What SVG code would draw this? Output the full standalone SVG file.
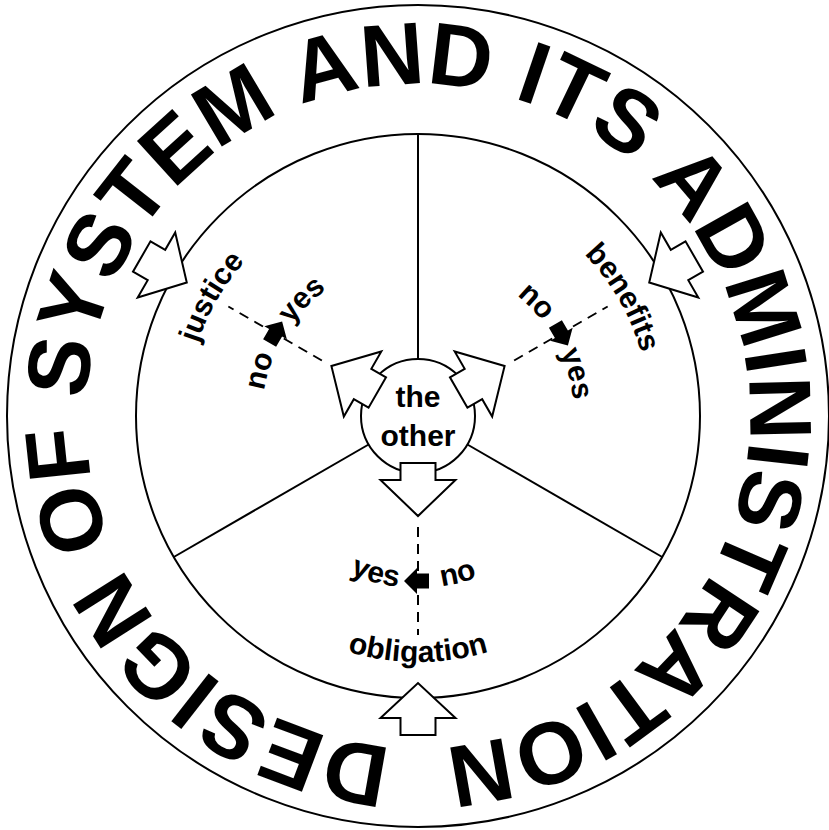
<svg xmlns="http://www.w3.org/2000/svg" width="829" height="830" viewBox="0 0 829 830">
<style>
.ln{fill:none;stroke:#000;stroke-width:2}
.blk{fill:#fff;stroke:#000;stroke-width:2;stroke-linejoin:miter}
.dash{fill:none;stroke:#000;stroke-width:2;stroke-dasharray:10 7}
.mini{fill:#000;stroke:none}
.lbl{font-family:"Liberation Sans",Arial,Helvetica,sans-serif;font-weight:bold;font-size:30px;fill:#000}
.ctr{font-family:"Liberation Sans",Arial,Helvetica,sans-serif;font-weight:bold;font-size:30px;fill:#000}
.ring{font-family:"Liberation Sans",Arial,Helvetica,sans-serif;font-weight:bold;font-size:88px;letter-spacing:0.3px;fill:#000}
</style>
<defs>
<polygon id="arrOut" class="blk" points="-17.5,47 17.5,47 17.5,64 37.5,64 0,100 -37.5,64 -17.5,64"/>
<polygon id="arrIn" class="blk" points="-17.5,319 -17.5,302 -37.5,302 0,267 37.5,302 17.5,302 17.5,319"/>
<line id="dashL" class="dash" x1="0" y1="111" x2="0" y2="219"/>
<polygon id="mini" class="mini" points="-14,165 -1,152 -1,157.5 11,157.5 11,172.5 -1,172.5 -1,178"/>
<path id="pRing" d="M418,748 A332,332 0 0 1 418,84 A332,332 0 0 1 418,748"/>
<path id="pObl" d="M204.96,539 A246,246 0 0 0 631.04,539"/>
<path id="pOblYes" d="M251.9,460.5 A172,172 0 0 0 539.6,537.6"/>
<path id="pOblNo" d="M294.3,535.5 A172,172 0 0 0 583.3,463.4"/>
<path id="pJus" d="M217.1,532 A232,232 0 0 1 418,184"/>
<path id="pJusYes" d="M267.3,456.4 A156,156 0 0 1 458.4,265.3"/>
<path id="pJusNo" d="M305.8,524.4 A156,156 0 0 1 380.3,264.6"/>
<path id="pBen" d="M418,184 A232,232 0 0 1 618.9,532"/>
<path id="pBenYes" d="M458.4,265.3 A156,156 0 0 1 528.3,526.3"/>
<path id="pBenNo" d="M380.3,264.6 A156,156 0 0 1 568,459"/>
</defs>

<g id="outer-ring">
<circle class="ln" cx="418" cy="416" r="411"/>
<text class="ring"><textPath href="#pRing" startOffset="50%" text-anchor="middle">DESIGN OF SYSTEM AND ITS ADMINISTRATION</textPath></text>
</g>

<g id="inner-circle">
<circle class="ln" cx="418" cy="416" r="282"/>
<line class="ln" x1="418" y1="359" x2="418" y2="134"/>
<line class="ln" x1="467.4" y1="444.5" x2="662.2" y2="557"/>
<line class="ln" x1="368.6" y1="444.5" x2="173.8" y2="557"/>
</g>

<g id="the-other">
<circle cx="418" cy="416" r="57" fill="#fff" stroke="#000" stroke-width="2"/>
<text class="ctr" x="418" y="407" text-anchor="middle">the</text>
<text class="ctr" x="418" y="446" text-anchor="middle">other</text>
</g>

<g id="connectors">
<g transform="translate(418 416)">
<use href="#arrOut"/><use href="#arrIn"/><use href="#dashL"/><use href="#mini"/>
</g>
<g transform="translate(418 416) rotate(120)">
<use href="#arrOut"/><use href="#arrIn"/><use href="#dashL"/><use href="#mini"/>
</g>
<g transform="translate(418 416) rotate(240)">
<use href="#arrOut"/><use href="#arrIn"/><use href="#dashL"/><use href="#mini"/>
</g>
</g>

<g id="obligation">
<text class="lbl"><textPath href="#pObl" startOffset="50%" text-anchor="middle">obligation</textPath></text>
<text class="lbl"><textPath href="#pOblYes" startOffset="50%" text-anchor="middle">yes</textPath></text>
<text class="lbl"><textPath href="#pOblNo" startOffset="50%" text-anchor="middle">no</textPath></text>
</g>

<g id="justice">
<text class="lbl"><textPath href="#pJus" startOffset="50%" text-anchor="middle">justice</textPath></text>
<text class="lbl"><textPath href="#pJusYes" startOffset="50%" text-anchor="middle">yes</textPath></text>
<text class="lbl"><textPath href="#pJusNo" startOffset="50%" text-anchor="middle">no</textPath></text>
</g>

<g id="benefits">
<text class="lbl"><textPath href="#pBen" startOffset="50%" text-anchor="middle">benefits</textPath></text>
<text class="lbl"><textPath href="#pBenYes" startOffset="50%" text-anchor="middle">yes</textPath></text>
<text class="lbl"><textPath href="#pBenNo" startOffset="50%" text-anchor="middle">no</textPath></text>
</g>
</svg>
